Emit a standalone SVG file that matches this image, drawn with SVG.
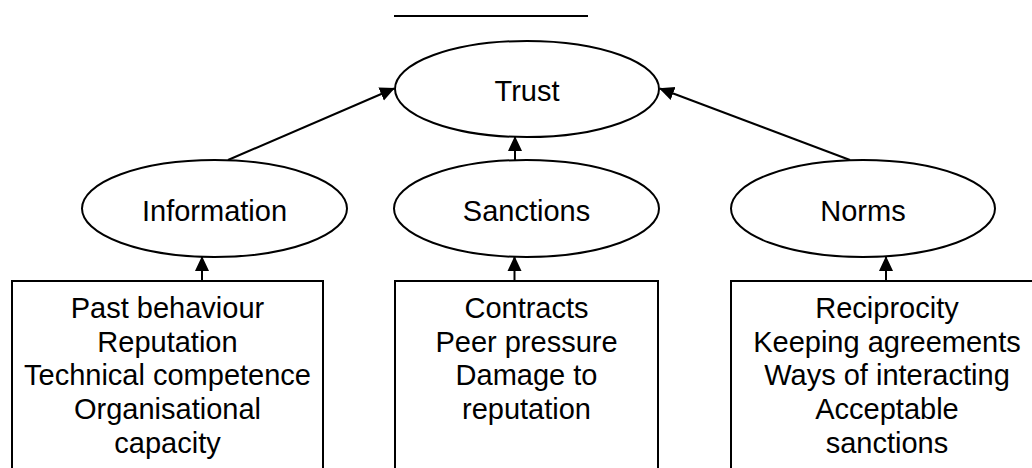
<svg xmlns="http://www.w3.org/2000/svg" width="1032" height="468" viewBox="0 0 1032 468">
<style>
.shape{fill:#fff;stroke:#000;stroke-width:2}
.lbl{font-family:"Liberation Sans",Arial,sans-serif;font-size:29px;fill:#000;text-anchor:middle}
.con{stroke:#000;stroke-width:2;fill:none;marker-end:url(#ah)}
</style>
<defs>
<marker id="ah" markerWidth="15" markerHeight="15" refX="14" refY="7.5" orient="auto" markerUnits="userSpaceOnUse">
<path d="M0,0.5 L15,7.5 L0,14.5 Z" fill="#000"/>
</marker>
</defs>
<rect width="1032" height="468" fill="#fff"/>
<line x1="394" y1="16" x2="588" y2="16" stroke="#000" stroke-width="2"/>
<g id="trust"><ellipse class="shape" cx="527" cy="89" rx="132" ry="48"/><text class="lbl" x="527" y="101">Trust</text></g>
<g id="information"><ellipse class="shape" cx="214.5" cy="208.5" rx="132.5" ry="48.5"/><text class="lbl" x="214.5" y="221">Information</text></g>
<g id="sanctions"><ellipse class="shape" cx="526.5" cy="208.5" rx="132.5" ry="48.5"/><text class="lbl" x="526.5" y="221">Sanctions</text></g>
<g id="norms"><ellipse class="shape" cx="863" cy="208.5" rx="132" ry="48.5"/><text class="lbl" x="863" y="221">Norms</text></g>
<g id="box-information"><rect class="shape" x="12" y="281" width="311" height="200"/>
<text class="lbl" x="167.5" y="318">Past behaviour</text>
<text class="lbl" x="167.5" y="351.7">Reputation</text>
<text class="lbl" x="167.5" y="385.4">Technical competence</text>
<text class="lbl" x="167.5" y="419">Organisational</text>
<text class="lbl" x="167.5" y="452.7">capacity</text></g>
<g id="box-sanctions"><rect class="shape" x="395" y="281" width="263" height="200"/>
<text class="lbl" x="526.5" y="318">Contracts</text>
<text class="lbl" x="526.5" y="351.7">Peer pressure</text>
<text class="lbl" x="526.5" y="385.4">Damage to</text>
<text class="lbl" x="526.5" y="419">reputation</text></g>
<g id="box-norms"><rect class="shape" x="731" y="281" width="320" height="200"/>
<text class="lbl" x="887" y="318">Reciprocity</text>
<text class="lbl" x="887" y="351.7">Keeping agreements</text>
<text class="lbl" x="887" y="385.4">Ways of interacting</text>
<text class="lbl" x="887" y="419">Acceptable</text>
<text class="lbl" x="887" y="452.7">sanctions</text></g>
<g id="connectors">
<line class="con" x1="228" y1="160" x2="394" y2="88.5"/>
<line class="con" x1="515" y1="160" x2="515" y2="137"/>
<line class="con" x1="850" y1="160" x2="660" y2="88.5"/>
<line class="con" x1="202" y1="281" x2="202" y2="257"/>
<line class="con" x1="514.5" y1="281" x2="514.5" y2="257"/>
<line class="con" x1="886" y1="281" x2="886" y2="257"/>
</g>
</svg>
